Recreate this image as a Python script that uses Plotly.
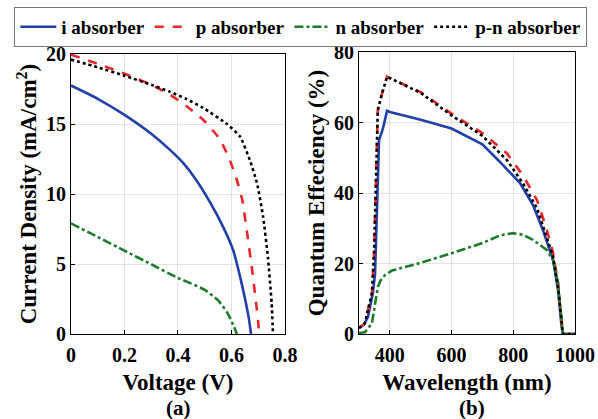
import plotly.graph_objects as go

# ---- (a) J-V data ----
V_i = [0.0, 0.1, 0.2, 0.3, 0.37, 0.42, 0.47, 0.52, 0.57, 0.606, 0.632, 0.654, 0.665, 0.673]
J_i = [17.75, 16.8, 15.65, 14.3, 13.15, 12.2, 10.95, 9.4, 7.6, 6.0, 4.1, 2.2, 1.1, 0.0]

V_p = [0.0, 0.1, 0.2, 0.3, 0.37, 0.43, 0.494, 0.557, 0.594, 0.62, 0.64, 0.657, 0.677, 0.695, 0.70, 0.703]
J_p = [19.95, 19.3, 18.6, 17.8, 17.1, 16.3, 15.3, 13.9, 12.4, 11.0, 9.6, 7.4, 4.6, 1.7, 0.8, 0.0]

V_n = [0.0, 0.1, 0.2, 0.3, 0.4, 0.45, 0.5, 0.55, 0.585, 0.61, 0.62]
J_n = [7.9, 6.93, 5.95, 4.98, 4.0, 3.6, 3.15, 2.4, 1.5, 0.5, 0.0]

V_pn = [0.0, 0.1, 0.2, 0.3, 0.37, 0.43, 0.494, 0.583, 0.632, 0.669, 0.695, 0.718, 0.736, 0.75, 0.755]
J_pn = [19.6, 19.05, 18.45, 17.8, 17.3, 16.8, 16.15, 15.0, 14.1, 12.4, 10.8, 8.4, 5.5, 2.2, 0.0]

# ---- (b) QE data ----
W_i = [300, 315, 329, 345, 352, 355, 358, 361, 365, 378, 391, 400, 500, 600, 700, 757, 822, 864, 896, 929, 945, 957, 961, 1000]
Q_i = [1.7, 2.5, 4.8, 11.6, 17.0, 25.8, 36.0, 44.5, 55.0, 58.4, 63.3, 63.0, 60.8, 58.3, 53.8, 48.8, 42.8, 36.6, 29.5, 21.0, 12.5, 2.0, 0.0, 0.0]

W_p = [300, 319, 342, 349, 354, 358, 361, 374, 391, 400, 500, 600, 700, 779, 831, 877, 909, 929, 945, 957, 961, 1000]
Q_p = [1.7, 3.0, 11.6, 23.0, 40.0, 51.0, 63.5, 68.0, 73.0, 72.6, 68.6, 62.5, 57.0, 51.3, 45.0, 38.0, 29.5, 23.0, 14.5, 2.0, 0.0, 0.0]

W_n = [300, 319, 342, 355, 361, 370, 384, 407, 500, 600, 700, 757, 799, 830, 864, 909, 929, 945, 957, 961, 1000]
Q_n = [0.3, 0.5, 3.0, 9.6, 13.3, 15.2, 16.7, 18.0, 20.2, 22.9, 25.8, 28.0, 28.6, 28.2, 26.7, 23.8, 21.0, 14.5, 3.0, 0.0, 0.0]

W_pn = [300, 319, 342, 349, 354, 358, 361, 374, 391, 400, 500, 600, 700, 779, 831, 877, 909, 929, 945, 957, 961, 1000]
Q_pn = [1.7, 3.0, 11.6, 23.0, 40.0, 51.0, 63.5, 68.0, 73.0, 72.6, 68.4, 62.0, 56.2, 49.4, 42.8, 35.7, 27.5, 22.0, 13.5, 2.0, 0.0, 0.0]

names = ["i absorber", "p absorber", "n absorber", "p-n absorber"]
colors = ["#2140a8", "#e8262a", "#1e7a2a", "#000000"]
dashes = ["solid", "dash", "dashdot", "dot"]

FONT = "Times New Roman, Liberation Serif, serif"

fig = go.Figure()
jv = [(V_i, J_i), (V_p, J_p), (V_n, J_n), (V_pn, J_pn)]
qe = [(W_i, Q_i), (W_p, Q_p), (W_n, Q_n), (W_pn, Q_pn)]
for k in range(4):
    fig.add_trace(go.Scatter(x=jv[k][0], y=jv[k][1], mode="lines", name=names[k],
                             line=dict(color=colors[k], dash=dashes[k], width=2.6, shape="spline", smoothing=0.5),
                             xaxis="x", yaxis="y", showlegend=True))
for k in range(4):
    fig.add_trace(go.Scatter(x=qe[k][0], y=qe[k][1], mode="lines", name=names[k],
                             line=dict(color=colors[k], dash=dashes[k], width=2.6),
                             xaxis="x2", yaxis="y2", showlegend=False))

axcommon = dict(showline=True, linecolor="black", linewidth=1, mirror=True,
                showgrid=True, gridcolor="#e3e3e3", gridwidth=1, ticks="inside",
                ticklen=4, tickcolor="black", zeroline=False, automargin=False,
                tickfont=dict(family=FONT, size=20, color="black", weight="bold"))
tfont = dict(family=FONT, size=23, color="black", weight="bold")

# plot area: full width, y 52..334 px
fig.update_layout(
    width=598, height=419, margin=dict(l=0, r=0, t=52, b=85, autoexpand=False),
    paper_bgcolor="white", plot_bgcolor="white", font=dict(family=FONT, size=18, color="black"),
    xaxis=dict(domain=[0.1187, 0.4766], range=[0, 0.8], tickvals=[0, 0.2, 0.4, 0.6, 0.8],
               ticktext=["0", "0.2", "0.4", "0.6", "0.8"], anchor="y", ticklabelstandoff=3,
               title=dict(text="Voltage (V)", font=tfont, standoff=8), **axcommon),
    yaxis=dict(domain=[0.0, 0.9929], range=[0, 20], tickvals=[0, 5, 10, 15, 20], anchor="x",
               title=dict(text="Current Density (mA/cm<sup>2</sup>)", font=tfont, standoff=2), **axcommon),
    xaxis2=dict(domain=[0.6003, 0.9615], range=[300, 1000], tickvals=[400, 600, 800, 1000], anchor="y2",
                ticklabelstandoff=3,
                title=dict(text="Wavelength (nm)", font=tfont, standoff=8), **axcommon),
    yaxis2=dict(domain=[0.0, 1.0], range=[0, 80], tickvals=[0, 20, 40, 60, 80], anchor="x2",
                title=dict(text="Quantum Effeciency (%)", font=tfont, standoff=2), **axcommon),
    legend=dict(orientation="h", x=0.503, xanchor="center", y=1.16, yanchor="top",
                bordercolor="#777777", borderwidth=1, bgcolor="white",
                font=dict(family=FONT, size=19, color="black", weight="bold"),
                itemwidth=36, tracegroupgap=0),
    annotations=[
        dict(text="(a)", x=0.2977, y=-0.262, xref="paper", yref="paper", xanchor="center", yanchor="middle",
             showarrow=False, font=dict(family=FONT, size=21, color="black", weight="bold")),
        dict(text="(b)", x=0.789, y=-0.262, xref="paper", yref="paper", xanchor="center", yanchor="middle",
             showarrow=False, font=dict(family=FONT, size=21, color="black", weight="bold")),
    ],
)

fig.write_html("out.html")
